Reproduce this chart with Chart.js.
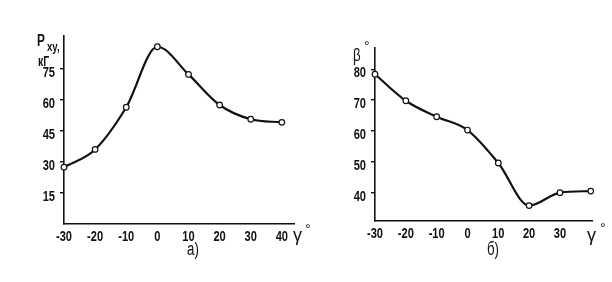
<!DOCTYPE html>
<html>
<head>
<meta charset="utf-8">
<script src="https://cdn.jsdelivr.net/npm/chart.js@4/dist/chart.umd.min.js"></script>
<style>
  html, body { margin:0; padding:0; background:#fff; }
  #wrap { position:relative; width:612px; height:282px; overflow:hidden; background:#fff; }
  .pane { position:absolute; top:0; height:282px; }
  canvas { display:block; }
</style>
</head>
<body>
<div id="wrap">
  <div class="pane" style="left:0;width:316px"><canvas id="c1" width="316" height="282"></canvas></div>
  <div class="pane" style="left:306px;width:306px"><canvas id="c2" width="306" height="282"></canvas></div>
</div>
<script>
// ---- data ----
const gammaA = [-30, -20, -10, 0, 10, 20, 30, 40];
const pxyValues = [27.5, 36.1, 56.5, 85.8, 72.4, 57.6, 50.7, 49.2];
const yTicksA = [15, 30, 45, 60, 75];
const xTicksA = [-30, -20, -10, 0, 10, 20, 30, 40];

const gammaB = [-30, -20, -10, 0, 10, 20, 30, 40];
const betaValues = [78.4, 69.8, 64.6, 60.3, 49.6, 35.8, 40.0, 40.5];
const yTicksB = [40, 50, 60, 70, 80];
const xTicksB = [-30, -20, -10, 0, 10, 20, 30];

const FONT = "'Liberation Sans', Arial, sans-serif";
const SQUEEZE = 0.74;

// narrow, hand-lettered look: horizontally compress text the chart draws
const squeezePlugin = {
  id: 'squeeze',
  beforeDraw(chart) {
    const ctx = chart.ctx;
    if (ctx.__squeezed) return;
    const orig = ctx.fillText.bind(ctx);
    ctx.__origFillText = orig;
    ctx.fillText = function (t, x, y, mw) {
      const w = this.measureText(t).width * SQUEEZE;
      return orig(t, x, y, (mw !== undefined && mw !== null) ? Math.min(mw, w) : w);
    };
    ctx.__squeezed = true;
  }
};

function makeChart(id, xs, ys, cfg) {
  const textPlugin = {
    id: 'txt' + id,
    afterDraw(chart) {
      const ctx = chart.ctx;
      ctx.save();
      ctx.fillStyle = '#111';
      ctx.textBaseline = 'alphabetic';
      cfg.texts.forEach(t => {
        ctx.font = (t.bold ? 'bold ' : '') + (t.size || 14) + 'px ' + FONT;
        ctx.textAlign = t.align || 'left';
        if (t.sq === 1 && ctx.__origFillText) ctx.__origFillText(t.s, t.x, t.y);
        else ctx.fillText(t.s, t.x, t.y);
      });
      ctx.restore();
    }
  };
  return new Chart(document.getElementById(id), {
    type: 'line',
    data: {
      datasets: [{
        data: xs.map((x, i) => ({x: x, y: ys[i]})),
        borderColor: '#111',
        borderWidth: 2.2,
        cubicInterpolationMode: 'monotone',
        pointRadius: 2.8,
        pointBackgroundColor: '#fff',
        pointBorderColor: '#111',
        pointBorderWidth: 1.2,
        clip: false
      }]
    },
    options: {
      responsive: false,
      animation: false,
      devicePixelRatio: 1,
      layout: { padding: cfg.padding },
      plugins: { legend: { display: false }, tooltip: { enabled: false } },
      scales: {
        x: {
          type: 'linear',
          min: cfg.xMin, max: cfg.xMax,
          afterFit: s => { s.height = cfg.xH; },
          afterBuildTicks: s => { s.ticks = cfg.xTicks.map(v => ({value: v})); },
          grid: { display: false, drawTicks: false },
          border: { display: true, color: '#111', width: 1.6 },
          ticks: { color: '#111', padding: 4, maxRotation: 0, autoSkip: false,
                   font: { family: FONT, size: 15, weight: 'bold' },
                   callback: v => String(v) }
        },
        y: {
          type: 'linear',
          min: cfg.yMin, max: cfg.yMax,
          afterFit: s => { s.width = cfg.yW; },
          afterBuildTicks: s => { s.ticks = cfg.yTicks.map(v => ({value: v})); },
          grid: { display: true, drawOnChartArea: false, drawTicks: true, tickLength: 4,
                  color: '#111', lineWidth: 1.4 },
          border: { display: true, color: '#111', width: 1.6 },
          ticks: { color: '#111', padding: 5, autoSkip: false, labelOffset: 4,
                   font: { family: FONT, size: 15, weight: 'bold' },
                   callback: v => String(v) }
        }
      }
    },
    plugins: [squeezePlugin, textPlugin]
  });
}

makeChart('c1', gammaA, pxyValues, {
  padding: { left: 0, top: 36, right: 22, bottom: 0 },
  xMin: -30, xMax: 43.9, yMin: 0, yMax: 91,
  xH: 58, yW: 64,
  xTicks: xTicksA, yTicks: yTicksA,
  texts: [
    { s: 'Р', x: 37, y: 46, size: 16, bold: true },
    { s: 'xy,', x: 47, y: 51, size: 13, bold: true },
    { s: 'кГ', x: 38, y: 66, size: 14, bold: true },
    { s: 'γ', x: 293, y: 241, size: 18, sq: 1 },
    { s: '°', x: 305, y: 234, size: 14, sq: 1 },
    { s: 'а)', x: 193, y: 255, size: 18, align: 'center' }
  ]
});

makeChart('c2', gammaB, betaValues, {
  padding: { left: 0, top: 48, right: 20, bottom: 0 },
  xMin: -30, xMax: 40.4, yMin: 30.8, yMax: 86.9,
  xH: 61, yW: 69,
  xTicks: xTicksB, yTicks: yTicksB,
  texts: [
    { s: 'β', x: 47, y: 61, size: 18 },
    { s: '°', x: 58, y: 51, size: 14, sq: 1 },
    { s: 'γ', x: 281, y: 241, size: 18, sq: 1 },
    { s: '°', x: 294, y: 233, size: 14, sq: 1 },
    { s: 'б)', x: 187, y: 255, size: 18, align: 'center' }
  ]
});
</script>
</body>
</html>
